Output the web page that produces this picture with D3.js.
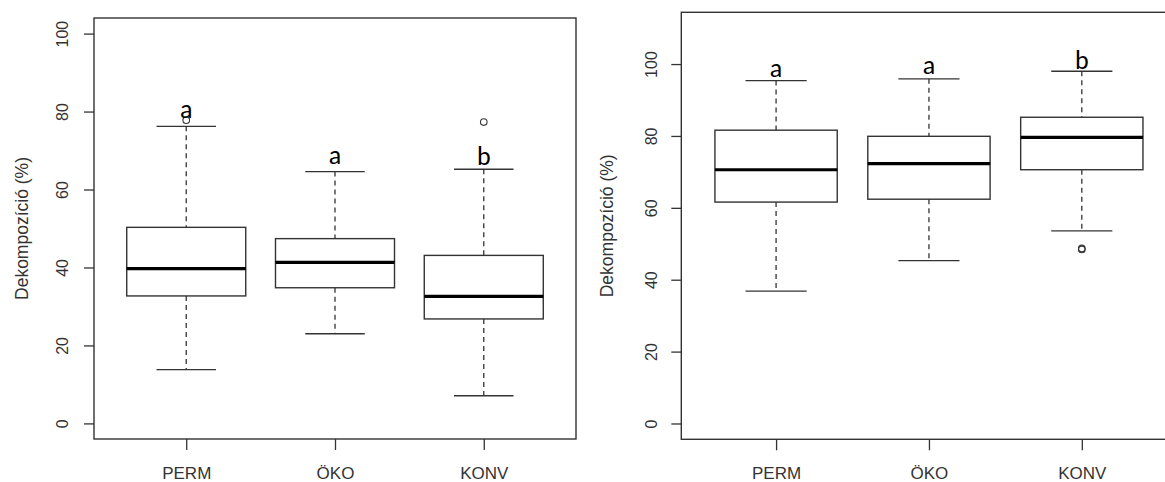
<!DOCTYPE html>
<html>
<head>
<meta charset="utf-8">
<script src="https://cdn.jsdelivr.net/npm/d3@7"></script>
<style>
  body { margin: 0; background: #fff; }
  svg { display: block; }
</style>
</head>
<body>
<svg id="chart" width="1165" height="482"></svg>
<script>
// Categories (x axis)
const categories = ["PERM", "ÖKO", "KONV"];
const yTicks = [0, 20, 40, 60, 80, 100];
const yTitle = "Dekompozíció (%)";

// Left panel box stats
const leftLower  = [13.8, 23.0, 7.1];
const leftQ1     = [32.7, 34.8, 26.8];
const leftMedian = [39.7, 41.3, 32.6];
const leftQ3     = [50.3, 47.4, 43.1];
const leftUpper  = [76.2, 64.6, 65.2];
const leftOutliers = [[77.8], [], [77.3]];
const leftLetters = ["a", "a", "b"];
const leftLetterY = [78.3, 66.6, 66.3];

// Right panel box stats
const rightLower  = [36.8, 45.3, 53.6];
const rightQ1     = [61.6, 62.4, 70.6];
const rightMedian = [70.6, 72.3, 79.6];
const rightQ3     = [81.6, 79.9, 85.2];
const rightUpper  = [95.4, 95.9, 98.0];
const rightOutliers = [[], [], [48.4, 48.7]];
const rightLetters = ["a", "a", "b"];
const rightLetterY = [96.3, 97.2, 98.6];

const svg = d3.select("#chart");
svg.append("rect").attr("width", 1165).attr("height", 482).attr("fill", "#fff");

const lineCol = "#333";
const textCol = "#333";

function drawPanel(p) {
    const x = d3.scalePoint().domain(categories).range([p.left, p.right]).padding(0.62);
    const y = d3.scaleLinear().domain(p.yDomain).range([p.bottom, p.top]);
    const step = x.step();
    const boxW = step * 0.8;
    const capW = boxW * 0.5;

    const g = svg.append("g");

    // y axis
    const yAxis = g.append("g")
        .attr("transform", `translate(${p.left},0)`)
        .call(d3.axisLeft(y).tickValues(yTicks).tickSize(10).tickFormat(d3.format("d")));
    yAxis.select(".domain").remove();
    yAxis.selectAll(".tick line").attr("stroke", lineCol).attr("stroke-width", 1.3);
    yAxis.selectAll(".tick text")
        .attr("x", null).attr("dy", "0.35em")
        .attr("transform", `translate(${p.labelOff},0) rotate(-90)`)
        .attr("text-anchor", "middle")
        .attr("fill", textCol)
        .style("font", "16px 'Liberation Sans', Arial, sans-serif");

    // x axis
    const xAxis = g.append("g")
        .attr("transform", `translate(0,${p.bottom})`)
        .call(d3.axisBottom(x).tickSize(11));
    xAxis.select(".domain").remove();
    xAxis.selectAll(".tick line").attr("stroke", lineCol).attr("stroke-width", 1.3);
    xAxis.selectAll(".tick text")
        .attr("y", 40).attr("dy", 0)
        .attr("fill", textCol)
        .style("font", "17px 'Liberation Sans', Arial, sans-serif");

    // y title
    g.append("text")
        .attr("transform", `translate(${p.left + p.titleOff},${(p.top + p.bottom) / 2}) rotate(-90)`)
        .attr("dy", "0.35em")
        .attr("text-anchor", "middle")
        .attr("fill", textCol)
        .style("font", "17.5px 'Liberation Sans', Arial, sans-serif")
        .text(yTitle);

    // frame
    g.append("rect")
        .attr("x", p.left).attr("y", p.top)
        .attr("width", p.right - p.left).attr("height", p.bottom - p.top)
        .attr("fill", "none").attr("stroke", lineCol).attr("stroke-width", 1.4);

    const boxes = g.selectAll(".box").data(categories).join("g").attr("class", "box");

    // whiskers (dashed)
    boxes.append("line")
        .attr("x1", d => x(d)).attr("x2", d => x(d))
        .attr("y1", (d, i) => y(p.upper[i])).attr("y2", (d, i) => y(p.q3[i]))
        .attr("stroke", lineCol).attr("stroke-width", 1.3).attr("stroke-dasharray", "5,4");
    boxes.append("line")
        .attr("x1", d => x(d)).attr("x2", d => x(d))
        .attr("y1", (d, i) => y(p.q1[i])).attr("y2", (d, i) => y(p.lower[i]))
        .attr("stroke", lineCol).attr("stroke-width", 1.3).attr("stroke-dasharray", "5,4");

    // staples
    [p.upper, p.lower].forEach(arr => {
        boxes.append("line")
            .attr("x1", d => x(d) - capW / 2).attr("x2", d => x(d) + capW / 2)
            .attr("y1", (d, i) => y(arr[i])).attr("y2", (d, i) => y(arr[i]))
            .attr("stroke", lineCol).attr("stroke-width", 1.3);
    });

    // box
    boxes.append("rect")
        .attr("x", d => x(d) - boxW / 2).attr("width", boxW)
        .attr("y", (d, i) => y(p.q3[i]))
        .attr("height", (d, i) => y(p.q1[i]) - y(p.q3[i]))
        .attr("fill", "#fff").attr("stroke", lineCol).attr("stroke-width", 1.4);

    // median
    boxes.append("line")
        .attr("x1", d => x(d) - boxW / 2).attr("x2", d => x(d) + boxW / 2)
        .attr("y1", (d, i) => y(p.median[i])).attr("y2", (d, i) => y(p.median[i]))
        .attr("stroke", "#000").attr("stroke-width", 3.2);

    // outliers
    boxes.each(function (d, i) {
        d3.select(this).selectAll("circle").data(p.outliers[i]).join("circle")
            .attr("cx", x(d)).attr("cy", v => y(v)).attr("r", 3.3)
            .attr("fill", "none").attr("stroke", lineCol).attr("stroke-width", 1.1);
    });

    // significance letters
    boxes.append("text")
        .attr("x", d => x(d)).attr("y", (d, i) => y(p.letterY[i]))
        .attr("text-anchor", "middle")
        .attr("fill", "#000")
        .style("font", "26px Carlito, Calibri, Lato, sans-serif")
        .text((d, i) => p.letters[i]);
}

drawPanel({
    left: 94, right: 576, top: 18, bottom: 439,
    yDomain: [-4, 104], labelOff: -32, titleOff: -72,
    lower: leftLower, q1: leftQ1, median: leftMedian, q3: leftQ3, upper: leftUpper,
    outliers: leftOutliers, letters: leftLetters, letterY: leftLetterY
});

drawPanel({
    left: 681.3, right: 1176.6, top: 12.3, bottom: 439.3,
    yDomain: [-4.4, 114.4], labelOff: -30, titleOff: -74.6,
    lower: rightLower, q1: rightQ1, median: rightMedian, q3: rightQ3, upper: rightUpper,
    outliers: rightOutliers, letters: rightLetters, letterY: rightLetterY
});
</script>
</body>
</html>
